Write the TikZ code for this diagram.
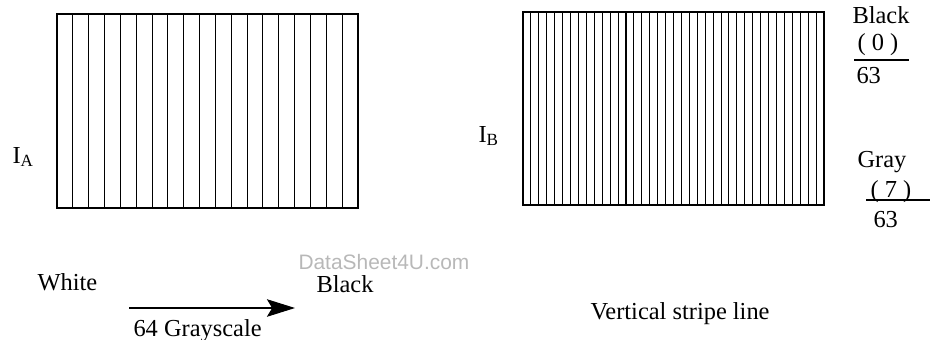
\documentclass[tikz,border=0pt]{standalone}
\usepackage{fontspec}
\setmainfont{Liberation Serif}
\newfontfamily\wmfont{Liberation Sans}
\usetikzlibrary{arrows.meta}

\tikzset{
  lbl/.style={anchor=base west, inner sep=0pt, font=\fontsize{13.9}{16}\selectfont},
  wmark/.style={anchor=base west, inner sep=0pt, text=black!28, font=\wmfont\fontsize{11.9}{14}\selectfont},
}

\begin{document}
\begin{tikzpicture}[line width=0.6pt, x=0.02cm, y=-0.02cm]
  \useasboundingbox (0,0) rectangle (930,339);
  % left block, 19 stripes
  \draw (57,14) rectangle (358,208);
  \foreach \i in {1,...,18}
    \draw ({57+\i*301/19},14) -- ({57+\i*301/19},208);
  % right block, 38 stripes
  \draw (523,12) rectangle (824,205);
  \foreach \i in {1,...,37}
    \draw ({523+\i*301/38},12) -- ({523+\i*301/38},205);
  \node[lbl] (ia) at (12,163) {I\textsubscript{A}};
  \node[lbl] (ib) at (478,142) {I\textsubscript{B}};
  % levels at the right
  \node[lbl] (blk) at (852,23) {Black};
  \node[lbl] (blknum) at (857,50) {( 0 )};
  \node[lbl] (blkden) at (856,83) {63};
  \draw (854,60) -- (909,60);
  \node[lbl] (gry) at (857,167) {Gray};
  \node[lbl] (grynum) at (870,197) {( 7 )};
  \node[lbl] (gryden) at (873,227) {63};
  \draw (866,200) -- (930,200);
  % grayscale direction
  \node[lbl] (white) at (37,290) {White};
  \node[lbl] (black) at (316,292) {Black};
  \coordinate (gsl) at (129,308);
  \coordinate (gsr) at (295,308);
  \draw[-{Stealth[length=16pt, width=10pt, inset=3pt]}] (gsl) -- (gsr);
  \node[lbl] (gscale) at (133,336) {64 Grayscale};
  \node[lbl] (vsl) at (590,319) {Vertical stripe line};
  \node[wmark] (wm) at (298,269) {DataSheet4U.com};
\end{tikzpicture}
\end{document}
